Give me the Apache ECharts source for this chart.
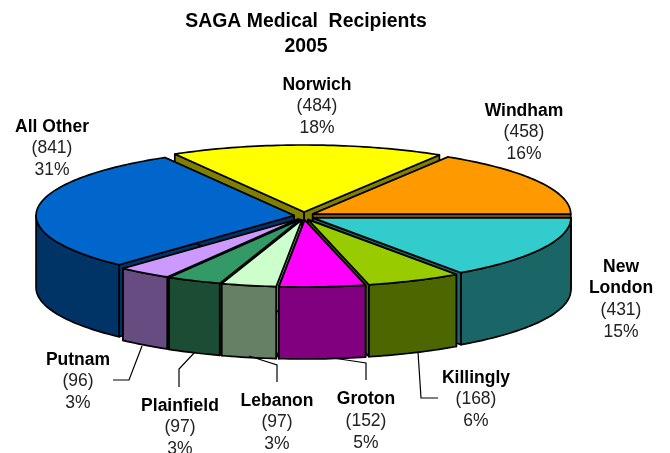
<!DOCTYPE html>
<html><head><meta charset="utf-8">
<style>html,body{margin:0;padding:0;background:#fff}#c{width:670px;height:453px}</style>
<script src="https://cdn.jsdelivr.net/npm/echarts@6/dist/echarts.min.js"></script>
</head><body><div id="c"></div>
<script>
// Data, clockwise from due east
const categories = ['New London','Killingly','Groton','Lebanon','Plainfield','Putnam','All Other','Norwich','Windham'];
const values = [431,168,152,97,97,96,841,484,458];
const percentLabels = ['15%','6%','5%','3%','3%','3%','31%','18%','16%'];
const topColors = ['#33CCCC','#99CC00','#FF00FF','#CCFFCC','#339966','#CC99FF','#0066CC','#FFFF00','#FF9900'];
const sideColors = ['#1A6666','#4C6600','#800080','#668066','#1A4D33','#664C80','#003366','#808000','#804C00'];

// Layout
const centre = [304, 216], radius = [258, 67], wallHeight = 72, explode = [10, 4];
const labelFont = 'Liberation Sans, Arial, sans-serif';
const labelCentres = [[621,300],[476,400],[366,421.5],[277,423],[180,428],[78,382],[52,149],[317,107],[524,133]];
const leaderLines = [null,
  [[418,352],[421,398],[438,398]],
  [[366,380],[366,363],[333,358]],
  [[277,382],[277,365],[249,356]],
  [[179,387],[179,369],[195,352]],
  [[113,380],[129,380],[142,346]],
  null,null,null];

const total = values.reduce((a,b)=>a+b,0);
const slices = [];
let acc = 0;
values.forEach(v => {
  const a0 = acc / total * 2 * Math.PI;
  acc += v;
  slices.push({a0, a1: acc / total * 2 * Math.PI, mid: (a0 + acc / total * 2 * Math.PI) / 2});
});
const paintOrder = slices.map((s,i)=>[Math.sin(s.mid), i]).sort((p,q)=>p[0]-q[0]).map(p=>p[1]);

function renderItem(params, api) {
  const i = params.dataIndex;
  const s = slices[i];
  const base = paintOrder.indexOf(i) * 10;
  const ox = centre[0] + explode[0] * Math.cos(s.mid);
  const oy = centre[1] + explode[1] * Math.sin(s.mid);
  const pt = (a, dy) => [ox + radius[0] * Math.cos(a), oy + radius[1] * Math.sin(a) + (dy || 0)];
  const arc = (from, to, dy) => {
    const n = Math.max(2, Math.ceil(Math.abs(to - from) / 0.02)), out = [];
    for (let k = 0; k <= n; k++) out.push(pt(from + (to - from) * k / n, dy));
    return out;
  };
  const stroke = {stroke:'#000', lineWidth:1.7, lineJoin:'round'};
  const children = [];
  const poly = (points, fill, z) => children.push({type:'polygon', shape:{points}, z2: base + z,
    style:Object.assign({fill}, stroke)});
  // radial faces
  [s.a0, s.a1].forEach(a => {
    poly([[ox,oy],pt(a),pt(a,wallHeight),[ox,oy+wallHeight]], sideColors[i], 1);
  });
  // outer wall: the part of the rim that faces the viewer
  const f = Math.max(s.a0, 0), t = Math.min(s.a1, Math.PI);
  if (t > f) poly(arc(f,t,0).concat(arc(t,f,wallHeight)), sideColors[i], 2);
  // top
  poly([[ox,oy]].concat(arc(s.a0,s.a1,0)), topColors[i], 3);
  // leader
  if (leaderLines[i]) children.push({type:'polyline', shape:{points:leaderLines[i]}, z2:500,
    style:{stroke:'#000', lineWidth:1.2, fill:null}});
  // label
  const nameLines = categories[i] === 'New London' ? categories[i].split(' ') : [categories[i]];
  children.push({type:'text', x:labelCentres[i][0], y:labelCentres[i][1], z2:600,
    style:{
      text: nameLines.map(n=>'{b|'+n+'}').join('\n') + '\n{n|(' + api.value(0) + ')}\n{n|' + percentLabels[i] + '}',
      align:'center', verticalAlign:'middle', fill:'#000', fontFamily:labelFont,
      rich:{
        b:{fontFamily:labelFont,fontWeight:'bold',fontSize:17.5,lineHeight:21,fill:'#000',align:'center'},
        n:{fontFamily:labelFont,fontSize:17.5,lineHeight:22,fill:'#222',align:'center'}
      }
    }});
  return {type:'group', children};
}

const chart = echarts.init(document.getElementById('c'), null, {renderer:'canvas'});
chart.setOption({
  animation:false,
  backgroundColor:'#fff',
  title:{text:'SAGA Medical  Recipients\n2005', left:301, top:4, textAlign:'center',
    textStyle:{fontFamily:labelFont,fontWeight:'bold',fontSize:19.4,lineHeight:25,color:'#000'}},
  series:[{type:'custom', coordinateSystem:'none', renderItem, silent:true,
    data: values.map((v,i)=>({name:categories[i], value:[v]}))}]
});
</script></body></html>
